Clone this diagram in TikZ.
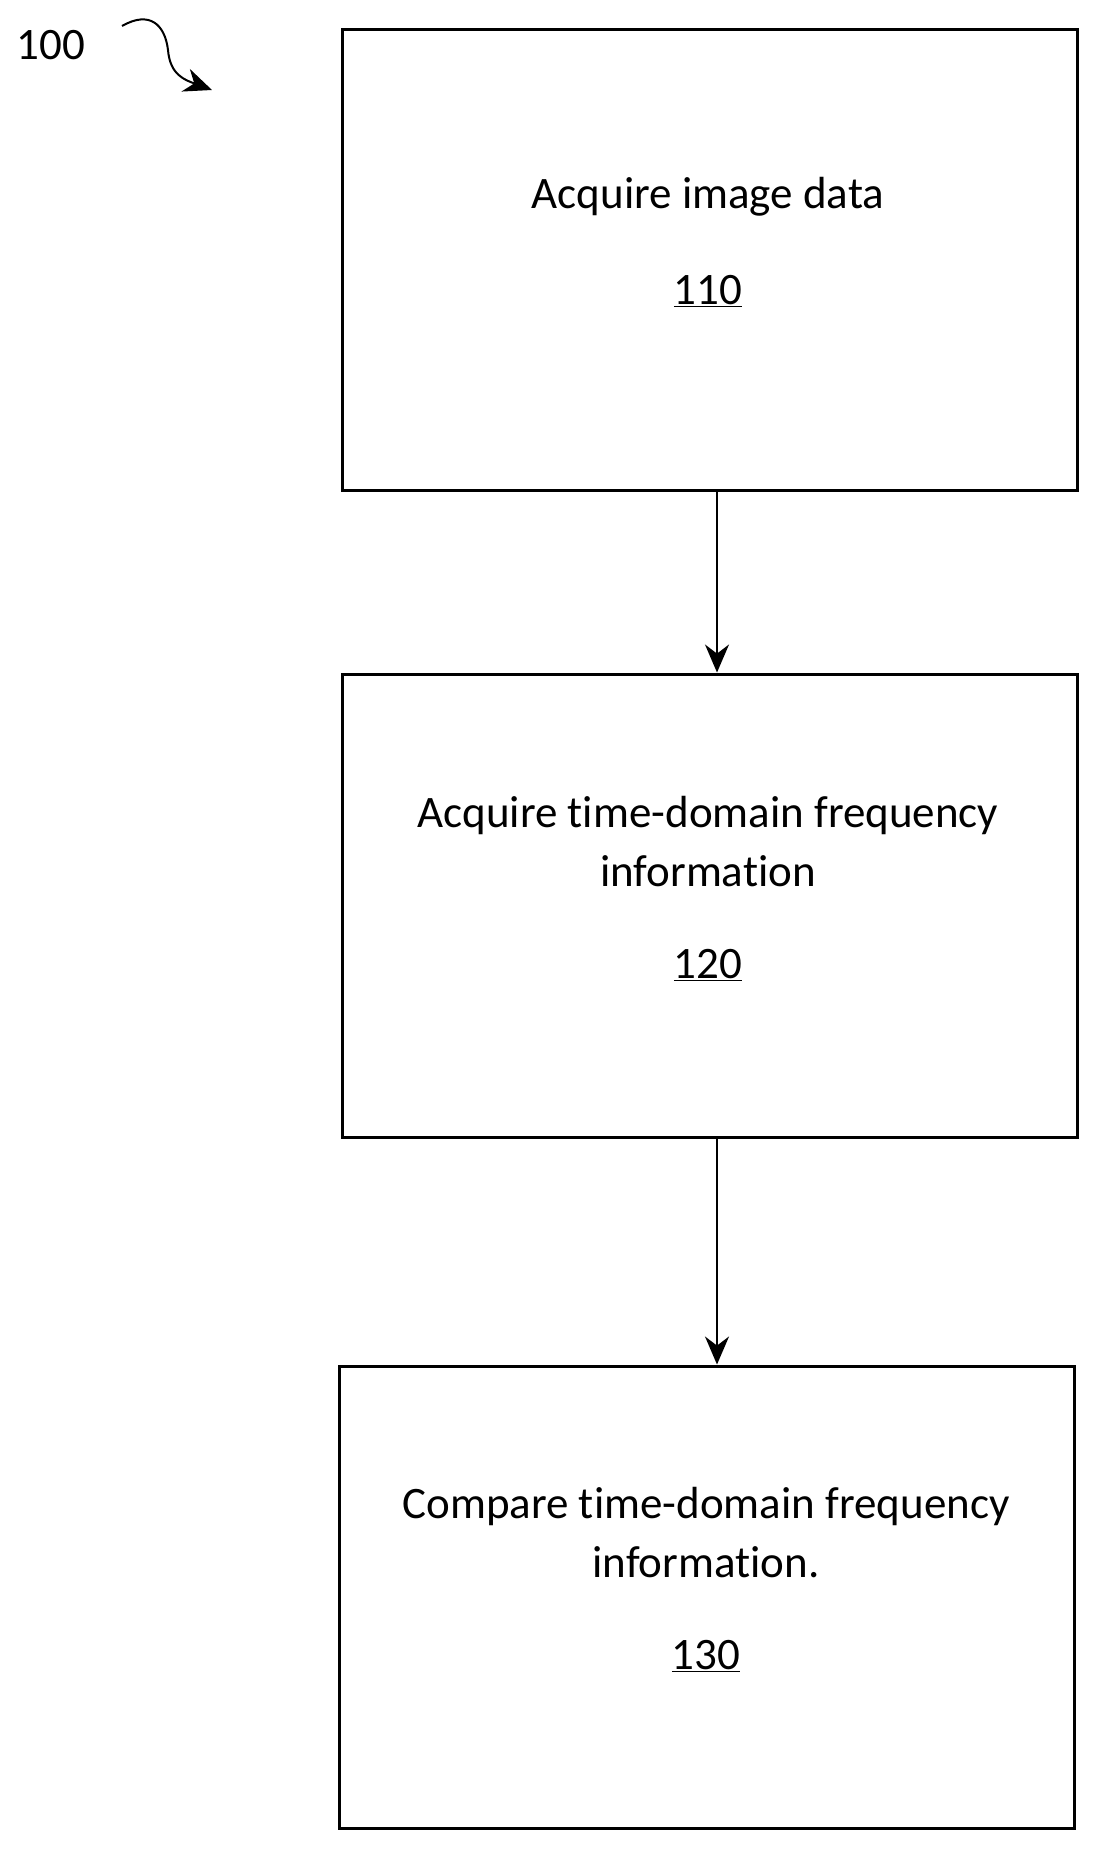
\documentclass[tikz,border=0pt]{standalone}
\usepackage{fontspec}
\setmainfont[Ligatures=NoCommon]{Carlito}
\usetikzlibrary{arrows.meta}
\tikzset{
    >=Stealth,
    stepbox/.style={draw=black,line width=3pt,minimum width=735pt,inner sep=0pt},
    steptext/.style={align=center,font=\fontsize{45}{59}\selectfont},
    flow/.style={line width=2pt,arrows={-Stealth[length=28pt,width=24pt]}}
}
\begin{document}
\begin{tikzpicture}[x=1pt,y=-1pt]
  \useasboundingbox (0,0) rectangle (1098,1852);
  % steps
  \node[stepbox,minimum height=460pt] (b1) at (709.5,260) {};
  \node[stepbox,minimum height=463pt] (b2) at (709.5,905.5) {};
  \node[stepbox,minimum height=462pt] (b3) at (707,1597) {};

  \node[steptext] (t1) at (708,197) {Acquire image data};
  \node[steptext] (n1) at (708,291) {\underline{110}};
  \node[steptext] (t2) at (708,841.5) {Acquire time-domain frequency\\information};
  \node[steptext] (n2) at (708,965) {\underline{120}};
  \node[steptext] (t3) at (706,1532.5) {Compare time-domain frequency\\information.};
  \node[steptext] (n3) at (706,1656) {\underline{130}};

  \draw[flow] ([xshift=7.5pt]b1.south) -- ([xshift=7.5pt]b2.north);
  \draw[flow] ([xshift=7.5pt]b2.south) -- ([xshift=10pt]b3.north);

  % figure reference
  \node[steptext] (fig) at (51,45) {100};
  \coordinate (s0) at (122,26);
  \coordinate (s1) at (212,90);
  \draw[flow] (s0) .. controls (150,10) and (165,25) .. (168,50)
     .. controls (170,75) and (185,80) .. (s1);
\end{tikzpicture}
\end{document}
